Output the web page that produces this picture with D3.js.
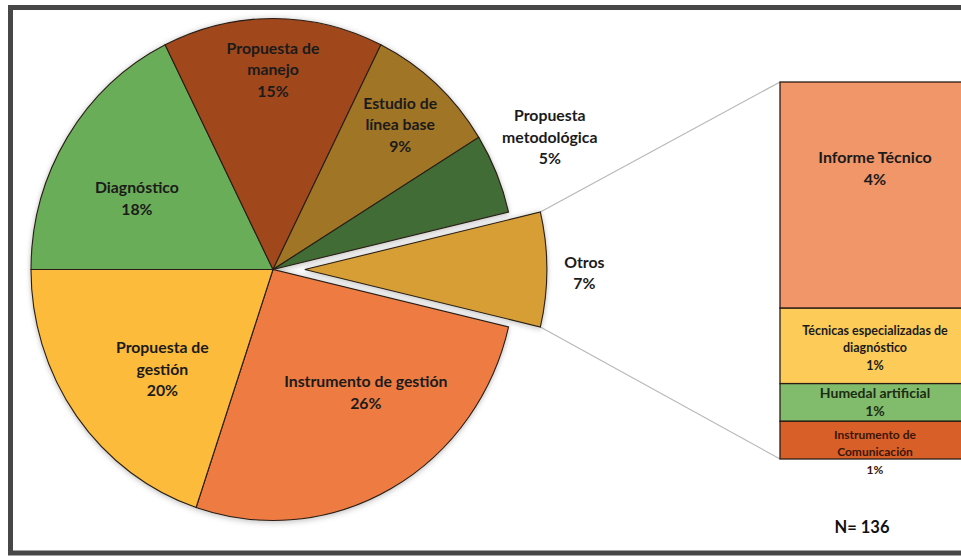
<!DOCTYPE html>
<html><head><meta charset="utf-8">
<script src="https://cdn.jsdelivr.net/npm/d3@7"></script>
<style>body{margin:0;background:#fff}svg{display:block}</style>
</head><body>
<svg id="c" width="961" height="556"></svg>
<script>
// ---- data ----
const categories = ["Instrumento de gestión","Propuesta de gestión","Diagnóstico","Propuesta de manejo","Estudio de línea base","Propuesta metodológica","Otros"];
const labelLines = [["Instrumento de gestión"],["Propuesta de","gestión"],["Diagnóstico"],["Propuesta de","manejo"],["Estudio de","línea base"],["Propuesta","metodológica"],["Otros"]];
const counts = [36, 27, 24, 20, 12, 7, 10];
const percentLabels = ["26%","20%","18%","15%","9%","5%","7%"];
const colors = ["#EE7C42","#FCBB3B","#6AAD58","#A0471F","#A17528","#426C35","#D79E36"];

const subCategories = ["Informe Técnico","Técnicas especializadas de diagnóstico","Humedal artificial","Instrumento de Comunicación"];
const subLabelLines = [["Informe Técnico"],["Técnicas especializadas de","diagnóstico"],["Humedal artificial"],["Instrumento de","Comunicación"]];
const subCounts = [6, 2, 1, 1];
const subPercentLabels = ["4%","1%","1%","1%"];
const subColors = ["#F09669","#FDCB57","#80BC6C","#D85F27"];
const totalN = "N= 136";

// ---- layout ----
const W = 961, H = 556;
const cx = 273, cy = 269.5, R = 251, sx = 242/251;
const explode = 33;
const labelPlace = [ // [angle deg, radius] per slice (label anchor)
  [141.9,156],[229,152],[296.7,158],[0,200],[42.3,196],[65.3,316],[90.7,290]
];
const barX = 780, barW = 190, barTop = 82, barBottom = 459;
const font = "Lato, 'Open Sans', sans-serif";

const svg = d3.select("#c");
const defs = svg.append("defs");
const f = defs.append("filter").attr("id","sh").attr("x","-10%").attr("y","-10%").attr("width","120%").attr("height","120%");
f.append("feDropShadow").attr("dx",0).attr("dy",1).attr("stdDeviation",3).attr("flood-color","#000").attr("flood-opacity",0.28);

// frame
svg.append("rect").attr("x",10.5).attr("y",7.5).attr("width",W+20).attr("height",545.5)
  .attr("fill","#fff").attr("stroke","#474747").attr("stroke-width",5);

const total = d3.sum(counts);
const before = counts[0] + counts[1];
const start = 1.5*Math.PI - before/total*2*Math.PI;
const pie = d3.pie().sort(null).value(d=>d).startAngle(start).endAngle(start+2*Math.PI);
const arcs = pie(counts);
const arc = d3.arc().innerRadius(0).outerRadius(R);

const off = (a, i) => {
  if (i !== 6) return [0,0];
  const m = (a.startAngle + a.endAngle)/2;
  return [explode*Math.sin(m), -explode*Math.cos(m)];
};

// connector lines
const ot = arcs[6];
const [ox, oy] = off(ot, 6);
const pt = ang => [cx + sx*(ox + R*Math.sin(ang)), cy + oy - R*Math.cos(ang)];
const pTop = pt(ot.startAngle), pBot = pt(ot.endAngle);
svg.append("line").attr("x1",pTop[0]).attr("y1",pTop[1]).attr("x2",barX).attr("y2",barTop)
  .attr("stroke","#b8b8b8").attr("stroke-width",1.2);
svg.append("line").attr("x1",pBot[0]).attr("y1",pBot[1]).attr("x2",barX).attr("y2",barBottom)
  .attr("stroke","#b8b8b8").attr("stroke-width",1.2);

const g = svg.append("g").attr("transform",`translate(${cx},${cy}) scale(${sx},1)`).attr("filter","url(#sh)");
g.selectAll("path").data(arcs).join("path")
  .attr("d",arc)
  .attr("transform",(d,i)=>`translate(${off(d,i)})`)
  .attr("fill",(d,i)=>colors[i])
  .attr("stroke","#2a1e14").attr("stroke-width",1.1)
  .attr("vector-effect","non-scaling-stroke");

function block(x, y, lines, size, color, lh) {
  const n = lines.length;
  const t = svg.append("text").attr("text-anchor","middle").attr("font-family",font)
    .attr("font-weight","bold").attr("font-size",size).attr("fill",color);
  lines.forEach((l,k)=>{
    t.append("tspan").attr("x",x).attr("y", y + (k - (n-1)/2)*lh).attr("dy","0.35em").text(l);
  });
}

arcs.forEach((a,i)=>{
  const [ang, r] = labelPlace[i];
  const [dx, dy] = off(a,i);
  const rad = ang*Math.PI/180;
  const x = cx + sx*(dx + r*Math.sin(rad));
  const y = cy + dy - r*Math.cos(rad);
  block(x, y, labelLines[i].concat([percentLabels[i]]), 15.8, "#1b1b1b", 21.5);
});

// bar of pie
const subTotal = d3.sum(subCounts);
const yb = d3.scaleLinear().domain([0, subTotal]).range([barTop, barBottom]);
const stack = d3.cumsum(subCounts);
const segs = subCounts.map((c,i)=>({c, i, y0: stack[i]-c, y1: stack[i]}));
svg.append("g").selectAll("rect").data(segs).join("rect")
  .attr("x",barX).attr("width",barW)
  .attr("y",d=>yb(d.y0)).attr("height",d=>yb(d.y1)-yb(d.y0))
  .attr("fill",d=>subColors[d.i]).attr("stroke","#2a1e14").attr("stroke-width",1.3);

const bc = barX + barW/2 - 0;
// Informe
block(bc, yb(0)+ (yb(6)-yb(0))*0.37 + 3, subLabelLines[0].concat([subPercentLabels[0]]), 16, "#1b1b1b", 22);
// Técnicas
block(bc, (yb(6)+yb(8))/2 + 2, subLabelLines[1].concat([subPercentLabels[1]]), 12.5, "#1b1b1b", 17.5);
// Humedal
block(bc, (yb(8)+yb(9))/2, subLabelLines[2].concat([subPercentLabels[2]]), 14, "#1d2c14", 18);
// Instrumento de comunicación
block(bc, (yb(9)+yb(10))/2 + 12, subLabelLines[3].concat([subPercentLabels[3]]), 12, "#3a1608", 17.5);

svg.append("text").attr("x",862).attr("y",527).attr("dy","0.35em").attr("text-anchor","middle")
  .attr("font-family",font).attr("font-weight","bold").attr("font-size",16.5).attr("fill","#111").text(totalN);
</script>
</body></html>
